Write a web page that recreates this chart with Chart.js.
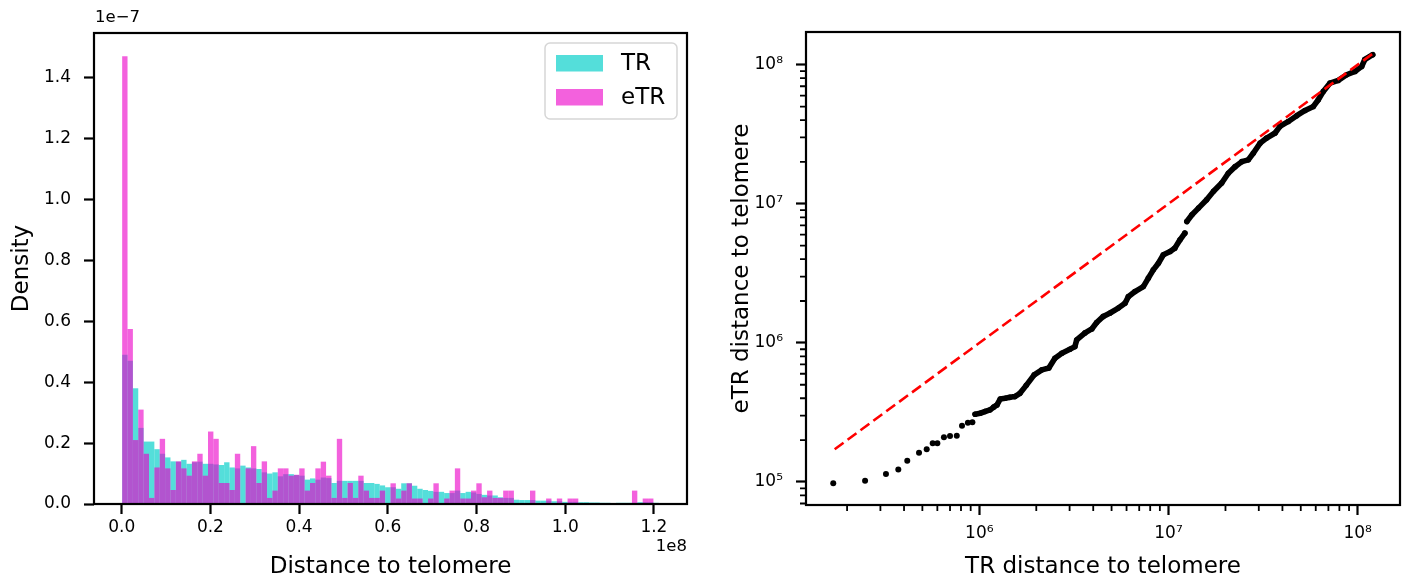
<!DOCTYPE html>
<html>
<head>
<meta charset="utf-8">
<script src="https://cdn.jsdelivr.net/npm/chart.js@4.4.1/dist/chart.umd.min.js"></script>
<style>
  html, body { margin: 0; padding: 0; background: #fff; }
  #wrap { position: relative; width: 1407px; height: 582px; }
  #wrap canvas { position: absolute; top: 0; }
</style>
</head>
<body>
<div id="wrap">
  <canvas id="histChart" width="703" height="582" style="left:0px"></canvas>
  <canvas id="qqChart" width="704" height="582" style="left:703px"></canvas>
</div>
<script>
// histogram bins (distance to telomere), density in units of 1e-7
var binStart = 1e5
var binWidth = 1.21e6
var trDensity = [
  0.49, 0.47, 0.38, 0.25, 0.205, 0.205, 0.18, 0.165, 0.153, 0.14,
  0.139, 0.145, 0.132, 0.137, 0.139, 0.132, 0.132, 0.13, 0.128, 0.137,
  0.12, 0.117, 0.126, 0.12, 0.117, 0.115, 0.104, 0.10, 0.104, 0.091,
  0.098, 0.098, 0.095, 0.093, 0.08, 0.084, 0.08, 0.087, 0.085, 0.069,
  0.076, 0.076, 0.076, 0.076, 0.076, 0.069, 0.069, 0.066, 0.061, 0.055,
  0.055, 0.05, 0.068, 0.068, 0.06, 0.05, 0.046, 0.043, 0.04, 0.04,
  0.036, 0.036, 0.044, 0.036, 0.04, 0.038, 0.033, 0.03, 0.028, 0.028,
  0.022, 0.02, 0.02, 0.014, 0.013, 0.013, 0.013, 0.011, 0.011, 0.011,
  0.009, 0.009, 0.007, 0.007, 0.007, 0.006, 0.006, 0.005, 0.005, 0.004,
  0.004, 0.002, 0.004, 0.004, 0.004, 0.004, 0.006, 0.006, 0.006, 0.004
]
var etrDensity = [
  1.47, 0.575, 0.21, 0.31, 0.165, 0.02, 0.12, 0.214, 0.117, 0.046,
  0.14, 0.117, 0.093, 0.14, 0.165, 0.093, 0.238, 0.214, 0.069, 0.069,
  0.046, 0.165, 0.0, 0.117, 0.19, 0.069, 0.14, 0.02, 0.044, 0.117,
  0.117, 0.093, 0.096, 0.117, 0.044, 0.069, 0.117, 0.139, 0.093, 0.02,
  0.214, 0.02, 0.069, 0.02, 0.093, 0.044, 0.02, 0.02, 0.044, 0.0,
  0.068, 0.018, 0.044, 0.068, 0.018, 0.018, 0.0, 0.018, 0.068, 0.0,
  0.018, 0.044, 0.117, 0.018, 0.018, 0.044, 0.068, 0.022, 0.044, 0.02,
  0.02, 0.044, 0.044, 0.0, 0.0, 0.0, 0.044, 0.0, 0.0, 0.018,
  0.0, 0.018, 0.0, 0.018, 0.018, 0.0, 0.0, 0.0, 0.0, 0.0,
  0.0, 0.0, 0.0, 0.0, 0.0, 0.044, 0.0, 0.018, 0.018, 0.0
]
var histXTicks = [0, 2e7, 4e7, 6e7, 8e7, 1e8, 1.2e8]
var histYTicks = [0, 0.2, 0.4, 0.6, 0.8, 1.0, 1.2, 1.4]

// quantile pairs [TR distance, eTR distance]
var qqSparse = [
  [1.69e5, 9.8e4], [2.49e5, 1.02e5], [3.21e5, 1.14e5], [3.73e5, 1.23e5],
  [4.16e5, 1.42e5], [4.80e5, 1.62e5], [5.27e5, 1.72e5], [5.67e5, 1.90e5],
  [6.0e5, 1.90e5], [6.5e5, 2.10e5], [7.0e5, 2.14e5], [7.6e5, 2.15e5],
  [8.1e5, 2.54e5], [8.7e5, 2.67e5], [9.19e5, 2.69e5]
]
var qqDenseLow = [
  [9.5e5, 3.07e5], [1.01e6, 3.12e5], [1.07e6, 3.21e5], [1.14e6, 3.30e5],
  [1.19e6, 3.45e5], [1.24e6, 3.58e5], [1.29e6, 3.95e5], [1.37e6, 4.0e5],
  [1.45e6, 4.06e5], [1.54e6, 4.11e5], [1.64e6, 4.34e5], [1.77e6, 4.95e5],
  [1.95e6, 5.89e5], [2.14e6, 6.4e5], [2.33e6, 6.6e5], [2.51e6, 7.76e5],
  [2.73e6, 8.43e5], [3.01e6, 9.0e5], [3.2e6, 9.4e5], [3.27e6, 1.05e6],
  [3.62e6, 1.18e6], [3.93e6, 1.26e6], [4.17e6, 1.40e6], [4.52e6, 1.55e6],
  [4.91e6, 1.64e6], [5.43e6, 1.78e6], [5.89e6, 1.93e6], [6.13e6, 2.15e6],
  [6.65e6, 2.34e6], [7.36e6, 2.54e6], [7.82e6, 2.92e6], [8.31e6, 3.35e6],
  [8.84e6, 3.74e6], [9.39e6, 4.30e6], [1.02e7, 4.54e6], [1.08e7, 4.80e6],
  [1.15e7, 5.51e6], [1.22e7, 6.15e6]
]
var qqDenseHigh = [
  [1.25e7, 7.46e6], [1.33e7, 8.34e6], [1.44e7, 9.31e6], [1.59e7, 1.07e7],
  [1.73e7, 1.23e7], [1.91e7, 1.41e7], [2.07e7, 1.66e7], [2.25e7, 1.85e7],
  [2.44e7, 2.01e7], [2.64e7, 2.07e7], [2.81e7, 2.32e7], [3.05e7, 2.73e7],
  [3.30e7, 2.97e7], [3.66e7, 3.23e7], [3.88e7, 3.6e7], [4.30e7, 3.91e7],
  [4.76e7, 4.30e7], [5.27e7, 4.69e7], [5.83e7, 5.01e7], [6.19e7, 5.60e7],
  [6.58e7, 6.43e7], [7.14e7, 7.38e7], [7.89e7, 7.71e7], [8.74e7, 8.47e7],
  [9.68e7, 8.95e7], [1.05e8, 9.73e7], [1.09e8, 1.09e8], [1.20e8, 1.18e8]
]
var refLine = [[1.72e5, 1.72e5], [1.2e8, 1.2e8]]
var qqXTicks = [1e6, 1e7, 1e8]
var qqYTicks = [1e5, 1e6, 1e7, 1e8]

Chart.defaults.font.family = 'DejaVu Sans'
Chart.defaults.color = '#000'

var SUP = ['\u2070', '\u00b9', '\u00b2', '\u00b3', '\u2074', '\u2075', '\u2076', '\u2077', '\u2078', '\u2079']
function pow10Label(v) {
  return '10' + SUP[Math.round(Math.log10(v))]
}
function toXY(pairs) {
  return pairs.map(function (p) { return {x: p[0], y: p[1]} })
}
function setTicks(list) {
  return function (scale) { scale.ticks = list.map(function (v) { return {value: v} }) }
}

var tickGrid = {drawOnChartArea: false, drawTicks: true, tickLength: 10, tickWidth: 2.2, tickColor: '#000', offset: false}

// box around the plot area
var frame = {
  id: 'frame',
  afterDraw: function (chart) {
    var a = chart.chartArea, ctx = chart.ctx
    ctx.save()
    ctx.strokeStyle = '#000'
    ctx.lineWidth = 2.2
    ctx.strokeRect(a.left, a.top, a.right - a.left, a.bottom - a.top)
    ctx.restore()
  }
}

var histExtras = {
  id: 'histExtras',
  afterDraw: function (chart) {
    var ctx = chart.ctx, a = chart.chartArea
    ctx.save()
    // offset texts
    ctx.fillStyle = '#000'
    ctx.font = '16.5px "DejaVu Sans"'
    ctx.textBaseline = 'middle'
    ctx.textAlign = 'left'
    ctx.fillText('1e\u22127', a.left + 1, 17.5)
    ctx.textAlign = 'right'
    ctx.fillText('1e8', a.right, 547)
    // legend
    var bx = 545, by = 43, bw = 132, bh = 76
    ctx.beginPath()
    ctx.roundRect(bx, by, bw, bh, 5)
    ctx.fillStyle = 'rgba(255,255,255,0.8)'
    ctx.fill()
    ctx.strokeStyle = '#d6d6d6'
    ctx.lineWidth = 1.5
    ctx.stroke()
    ctx.font = '23px "DejaVu Sans"'
    ctx.textAlign = 'left'
    chart.data.datasets.forEach(function (ds, i) {
      var y = 55 + i * 34
      ctx.fillStyle = ds.backgroundColor
      ctx.fillRect(556, y, 47, 16.5)
      ctx.fillStyle = '#000'
      ctx.fillText(ds.label, 621, y + 9)
    })
    ctx.restore()
  }
}

var minorTicks = {
  id: 'minorTicks',
  afterDraw: function (chart) {
    var ctx = chart.ctx, a = chart.chartArea
    var xs = chart.scales.x, ys = chart.scales.y
    ctx.save()
    ctx.strokeStyle = '#000'
    ctx.lineWidth = 1.8
    ctx.beginPath()
    for (var e = 4; e <= 8; e++) {
      for (var m = 2; m <= 9; m++) {
        var v = m * Math.pow(10, e)
        if (v > xs.min && v < xs.max) {
          var px = xs.getPixelForValue(v)
          ctx.moveTo(px, a.bottom)
          ctx.lineTo(px, a.bottom + 6)
        }
        if (v > ys.min && v < ys.max) {
          var py = ys.getPixelForValue(v)
          ctx.moveTo(a.left, py)
          ctx.lineTo(a.left - 6, py)
        }
      }
    }
    ctx.stroke()
    ctx.restore()
  }
}

var binCenters = trDensity.map(function (_, i) { return binStart + (i + 0.5) * binWidth })

new Chart(document.getElementById('histChart'), {
  type: 'bar',
  data: {
    datasets: [{
      label: 'TR',
      data: binCenters.map(function (x, i) { return {x: x, y: trDensity[i]} }),
      backgroundColor: 'rgba(0, 206, 200, 0.67)',
      order: 2
    }, {
      label: 'eTR',
      data: binCenters.map(function (x, i) { return {x: x, y: etrDensity[i]} }),
      backgroundColor: 'rgba(236, 0, 200, 0.62)',
      order: 1
    }]
  },
  options: {
    responsive: false,
    animation: false,
    devicePixelRatio: 1,
    layout: {padding: {left: 0, top: 33, right: 16, bottom: 0}},
    datasets: {bar: {grouped: false, barPercentage: 1, categoryPercentage: 1, borderWidth: 0, inflateAmount: 0}},
    plugins: {legend: {display: false}, tooltip: {enabled: false}},
    scales: {
      x: {
        type: 'linear', min: -6.25e6, max: 1.2746e8, offset: false,
        grid: tickGrid, border: {display: false},
        afterBuildTicks: setTicks(histXTicks),
        afterFit: function (s) { s.height = 78 },
        ticks: {autoSkip: false, maxRotation: 0, padding: 3, font: {size: 17},
          callback: function (v) { return (v / 1e8).toFixed(1) }},
        title: {display: true, text: 'Distance to telomere', font: {size: 23}, padding: {top: 0, bottom: 1.5}}
      },
      y: {
        type: 'linear', min: 0, max: 1.5466,
        grid: tickGrid, border: {display: false},
        afterBuildTicks: setTicks(histYTicks),
        afterFit: function (s) { s.width = 94 },
        ticks: {autoSkip: false, padding: 13, font: {size: 17},
          callback: function (v) { return v.toFixed(1) }},
        title: {display: true, text: 'Density', font: {size: 23}, padding: {top: 8, bottom: 0}}
      }
    }
  },
  plugins: [histExtras, frame]
})

new Chart(document.getElementById('qqChart'), {
  type: 'scatter',
  data: {
    datasets: [{
      label: 'y = x',
      data: toXY(refLine),
      showLine: true,
      borderColor: '#ff0000',
      borderWidth: 2.6,
      borderDash: [11, 5],
      pointRadius: 0,
      order: 1
    }, {
      label: 'quantiles',
      data: toXY(qqSparse),
      pointRadius: 3,
      pointBackgroundColor: '#000',
      pointBorderWidth: 0,
      order: 2
    }, {
      label: 'quantiles dense',
      data: toXY(qqDenseLow),
      showLine: true,
      borderColor: '#000',
      borderWidth: 5.6,
      borderCapStyle: 'round',
      borderJoinStyle: 'round',
      pointRadius: 2.8,
      pointBackgroundColor: '#000',
      pointBorderWidth: 0,
      order: 2
    }, {
      label: 'quantiles dense upper',
      data: toXY(qqDenseHigh),
      showLine: true,
      borderColor: '#000',
      borderWidth: 5.6,
      borderCapStyle: 'round',
      borderJoinStyle: 'round',
      pointRadius: 2.8,
      pointBackgroundColor: '#000',
      pointBorderWidth: 0,
      order: 2
    }]
  },
  options: {
    responsive: false,
    animation: false,
    devicePixelRatio: 1,
    layout: {padding: {left: 0, top: 32, right: 7, bottom: 0}},
    plugins: {legend: {display: false}, tooltip: {enabled: false}},
    scales: {
      x: {
        type: 'logarithmic', min: 1.213e5, max: 1.673e8,
        grid: tickGrid, border: {display: false},
        afterBuildTicks: setTicks(qqXTicks),
        afterFit: function (s) { s.height = 77 },
        ticks: {autoSkip: false, maxRotation: 0, padding: 8, font: {size: 17}, callback: pow10Label},
        title: {display: true, text: 'TR distance to telomere', font: {size: 23}, padding: {top: 0, bottom: 1.5}}
      },
      y: {
        type: 'logarithmic', min: 6.83e4, max: 1.719e8,
        grid: tickGrid, border: {display: false},
        afterBuildTicks: setTicks(qqYTicks),
        afterFit: function (s) { s.width = 103 },
        ticks: {autoSkip: false, padding: 13, font: {size: 17}, callback: pow10Label},
        title: {display: true, text: 'eTR distance to telomere', font: {size: 23}, padding: {top: 25, bottom: 0}}
      }
    }
  },
  plugins: [minorTicks, frame]
})
</script>
</body>
</html>
